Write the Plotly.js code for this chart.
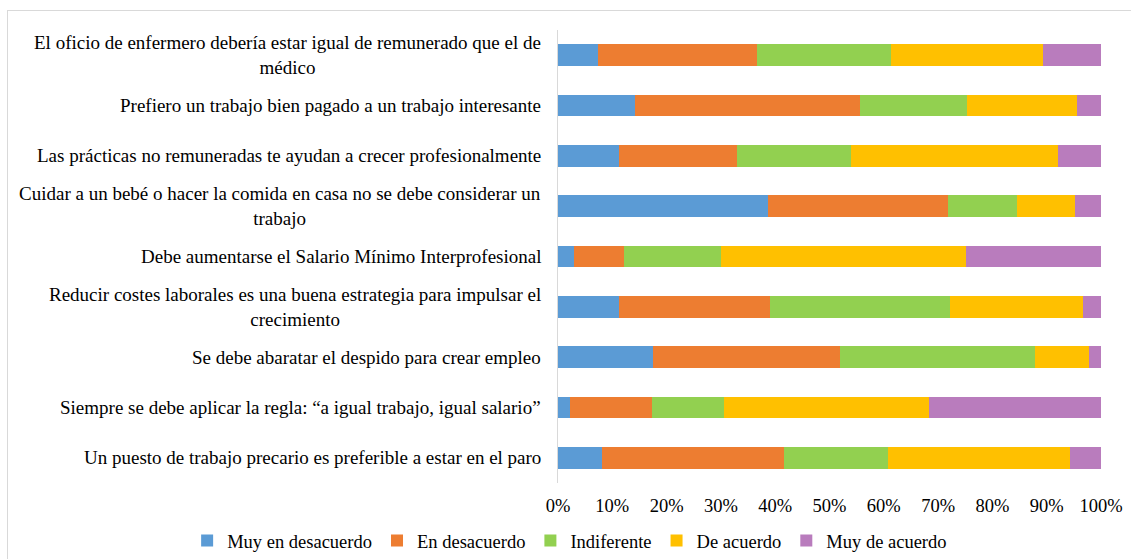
<!DOCTYPE html>
<html>
<head>
<meta charset="utf-8">
<script src="https://cdn.plot.ly/plotly-3.0.1.min.js"></script>
<style>
html,body{margin:0;padding:0;background:#fff;}
#wrap{position:relative;width:1131px;height:559px;overflow:hidden;}
#frame{position:absolute;left:7px;top:10px;width:1200px;height:700px;border-top:1px solid #d9d9d9;border-left:1px solid #d9d9d9;pointer-events:none;}
#chart{position:absolute;left:0;top:0;width:1131px;height:559px;}
</style>
</head>
<body>
<div id="wrap"><div id="chart"></div><div id="frame"></div></div>
<script>
var categories = [
  "El oficio de enfermero debería estar igual de remunerado que el de<br>médico",
  "Prefiero un trabajo bien pagado a un trabajo interesante",
  "Las prácticas no remuneradas te ayudan a crecer profesionalmente",
  "Cuidar a un bebé o hacer la comida en casa no se debe considerar un<br>trabajo",
  "Debe aumentarse el Salario Mínimo Interprofesional",
  "Reducir costes laborales es una buena estrategia para impulsar el<br>crecimiento",
  "Se debe abaratar el despido para crear empleo",
  "Siempre se debe aplicar la regla: “a igual trabajo, igual salario”",
  "Un puesto de trabajo precario es preferible a estar en el paro"
];
var seriesNames = ["Muy en desacuerdo", "En desacuerdo", "Indiferente", "De acuerdo", "Muy de acuerdo"];
var muyEnDesacuerdo = [7.3, 14.1, 11.3, 38.6, 3.0, 11.3, 17.5, 2.3, 8.1];
var enDesacuerdo    = [29.4, 41.5, 21.6, 33.2, 9.2, 27.8, 34.4, 15.1, 33.6];
var indiferente     = [24.7, 19.7, 21.1, 12.7, 17.9, 33.1, 35.9, 13.1, 19.0];
var deAcuerdo       = [28.0, 20.2, 38.0, 10.8, 45.0, 24.4, 9.9, 37.8, 33.5];
var muyDeAcuerdo    = [10.6, 4.5, 8.0, 4.7, 24.9, 3.4, 2.3, 31.7, 5.8];
var tickValues = [0,10,20,30,40,50,60,70,80,90,100];
var tickLabels = ["0%","10%","20%","30%","40%","50%","60%","70%","80%","90%","100%"];

var colors = ["#5B9BD5", "#ED7D31", "#92D050", "#FFC000", "#B97CBD"];
var values = [muyEnDesacuerdo, enDesacuerdo, indiferente, deAcuerdo, muyDeAcuerdo];

var FONT = "Liberation Serif";
var FS = 18.5;
var FS_CAT = 19;

var traces = values.map(function(v, i){
  return {
    type: 'bar',
    orientation: 'h',
    name: seriesNames[i],
    x: v,
    y: categories,
    marker: {color: colors[i], line: {width: 0}},
    hoverinfo: 'x+name'
  };
});

var annotations = categories.map(function(c){
  return {
    xref: 'paper', yref: 'y',
    x: 0, y: c,
    xanchor: 'right', yanchor: 'middle',
    xshift: -15,
    align: 'center',
    text: c,
    showarrow: false,
    font: {family: FONT, size: FS_CAT, color: '#000'}
  };
});

var layout = {
  width: 1131, height: 559,
  margin: {l: 558, r: 30, t: 30, b: 76, pad: 0, autoexpand: false},
  paper_bgcolor: '#fff', plot_bgcolor: '#fff',
  barmode: 'stack',
  bargap: 0.57,
  font: {family: FONT, size: FS, color: '#000'},
  xaxis: {
    range: [0, 100],
    tickvals: tickValues,
    ticktext: tickLabels,
    showgrid: false,
    zeroline: false,
    showline: false,
    ticks: '',
    ticklabelstandoff: 9,
    tickfont: {family: FONT, size: FS, color: '#000'},
    fixedrange: true
  },
  yaxis: {
    type: 'category',
    autorange: 'reversed',
    showticklabels: false,
    showgrid: false,
    zeroline: false,
    showline: true,
    linecolor: '#d9d9d9',
    linewidth: 1,
    ticks: '',
    fixedrange: true
  },
  legend: {
    orientation: 'h',
    x: -0.683, xanchor: 'left',
    y: -0.128, yanchor: 'middle',
    font: {family: FONT, size: FS, color: '#000'},
    traceorder: 'normal',
    itemwidth: 30,
    bgcolor: 'rgba(0,0,0,0)'
  },
  annotations: annotations,
  showlegend: true
};

Plotly.newPlot('chart', traces, layout, {displayModeBar: false, staticPlot: true});
</script>
</body>
</html>
